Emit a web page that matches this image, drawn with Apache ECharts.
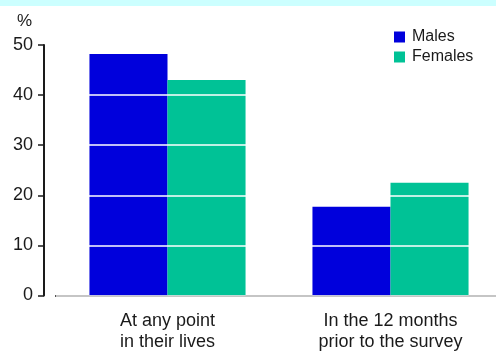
<!DOCTYPE html>
<html>
<head>
<meta charset="utf-8">
<script src="https://cdn.jsdelivr.net/npm/echarts@6/dist/echarts.min.js"></script>
<style>
  html, body { margin: 0; padding: 0; background: #fff; }
  #chart { width: 496px; height: 353px; }
</style>
</head>
<body>
<div id="chart"></div>
<script>
// Share of people, by sex and time period (%)
const categories = ['At any point\nin their lives', 'In the 12 months\nprior to the survey'];
const males = [48.2, 17.7];
const females = [43.0, 22.5];
const yTicks = { min: 0, max: 50, step: 10 };

const FONT = '"Liberation Sans", Arial, sans-serif';
const INK = '#1a1a1a';

const chart = echarts.init(document.getElementById('chart'), null, { renderer: 'canvas' });
chart.setOption({
  animation: false,
  textStyle: { fontFamily: FONT },
  graphic: [
    { type: 'rect', left: 0, top: 0, shape: { width: 496, height: 6 }, style: { fill: '#CCFFFF' }, silent: true },
    { type: 'text', left: 17, top: 13, style: { text: '%', font: '17px ' + FONT, fill: INK } }
  ],
  legend: {
    orient: 'vertical',
    left: 394,
    top: 29,
    padding: 0,
    itemWidth: 11,
    itemHeight: 11,
    itemGap: 4,
    icon: 'rect',
    textStyle: { fontSize: 16, color: INK, fontFamily: FONT, padding: [0, 0, 0, 2] },
    data: ['Males', 'Females']
  },
  grid: { left: 56, width: 446, top: 45, bottom: 57.5, containLabel: false, outerBoundsMode: 'none' },
  xAxis: {
    type: 'category',
    data: categories,
    axisLine: { lineStyle: { color: INK, width: 2 } },
    axisTick: { alignWithLabel: true, length: 7, lineStyle: { color: INK, width: 1.5 } },
    axisLabel: { color: INK, fontSize: 18, lineHeight: 21, margin: 15, fontFamily: FONT }
  },
  yAxis: {
    type: 'value',
    min: yTicks.min,
    max: yTicks.max,
    interval: yTicks.step,
    offset: 12,
    z: 5,
    axisLine: { show: true, lineStyle: { color: INK, width: 2 } },
    axisTick: { show: true, length: 6, lineStyle: { color: INK, width: 1.5 } },
    axisLabel: { color: INK, fontSize: 18, margin: 11, fontFamily: FONT, padding: [3, 0, 0, 0] },
    splitLine: { show: true, lineStyle: { color: '#fff', width: 1.5 } }
  },
  series: [
    { name: 'Males', type: 'bar', data: males, barGap: '0%', barCategoryGap: '30%', itemStyle: { color: '#0000DC' } },
    { name: 'Females', type: 'bar', data: females, barGap: '0%', barCategoryGap: '30%', itemStyle: { color: '#00C296' } }
  ]
});
</script>
</body>
</html>
